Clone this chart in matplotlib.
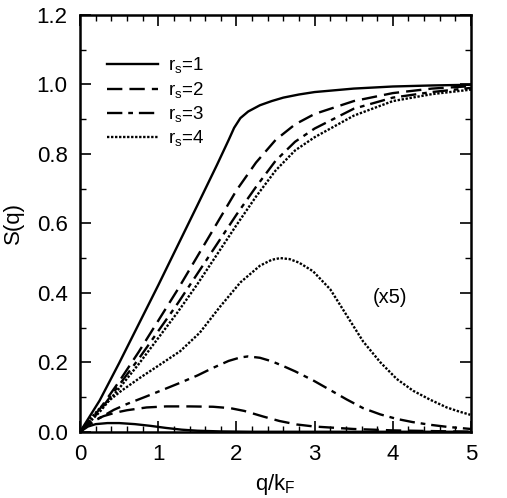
import numpy as np
import matplotlib
matplotlib.use("Agg")
import matplotlib.pyplot as plt
from matplotlib.ticker import MultipleLocator, FormatStrFormatter

plt.rcParams['font.family'] = ['Liberation Sans', 'DejaVu Sans']

# Upper curves: S(q)
q1 = [0, 0.25, 0.5, 0.75, 1.0, 1.25, 1.5, 1.75, 1.9, 1.97, 2.05, 2.15, 2.3, 2.45, 2.6, 2.8, 3.0, 3.5, 4.0, 4.5, 5.0]
s1 = [0, 0.09, 0.198, 0.31, 0.422, 0.537, 0.652, 0.768, 0.84, 0.875, 0.903, 0.922, 0.94, 0.952, 0.962, 0.971, 0.978, 0.988, 0.994, 0.997, 0.999]

q2 = [0, 0.25, 0.5, 0.75, 1.0, 1.25, 1.5, 1.75, 2.0, 2.25, 2.5, 2.75, 3.0, 3.5, 4.0, 4.5, 5.0]
s2 = [0, 0.065, 0.145, 0.23, 0.32, 0.41, 0.505, 0.6, 0.695, 0.775, 0.84, 0.885, 0.915, 0.952, 0.975, 0.988, 0.995]

q3 = [0, 0.25, 0.5, 0.75, 1.0, 1.25, 1.5, 1.75, 2.0, 2.25, 2.5, 2.75, 3.0, 3.5, 4.0, 4.5, 5.0]
s3 = [0, 0.06, 0.135, 0.21, 0.29, 0.37, 0.455, 0.54, 0.625, 0.705, 0.78, 0.835, 0.873, 0.93, 0.962, 0.978, 0.99]

q4 = [0, 0.25, 0.5, 0.75, 1.0, 1.25, 1.5, 1.75, 2.0, 2.25, 2.5, 2.75, 3.0, 3.5, 4.0, 4.5, 5.0]
s4 = [0, 0.057, 0.125, 0.195, 0.27, 0.345, 0.425, 0.51, 0.595, 0.677, 0.752, 0.81, 0.848, 0.91, 0.952, 0.972, 0.985]

# Lower curves (x5)
ql1 = [0, 0.1, 0.2, 0.35, 0.5, 0.7, 0.9, 1.1, 1.3, 1.5, 1.8, 2.2, 3.0, 5.0]
l1 = [0, 0.015, 0.022, 0.025, 0.025, 0.022, 0.017, 0.011, 0.006, 0.003, 0.001, 0.0, 0.0, 0.0]

ql2 = [0, 0.1, 0.2, 0.3, 0.45, 0.6, 0.85, 1.1, 1.4, 1.7, 1.92, 2.1, 2.34, 2.55, 2.77, 3.0, 3.5, 4.0, 4.5, 5.0]
l2 = [0, 0.02, 0.035, 0.045, 0.055, 0.062, 0.07, 0.073, 0.073, 0.072, 0.068, 0.06, 0.044, 0.031, 0.021, 0.015, 0.008, 0.004, 0.002, 0.0]

ql3 = [0, 0.1, 0.2, 0.3, 0.43, 0.6, 0.85, 1.05, 1.28, 1.5, 1.7, 1.9, 2.05, 2.15, 2.3, 2.45, 2.6, 2.75, 2.98, 3.2, 3.41, 3.62, 3.84, 4.05, 4.25, 4.48, 4.7, 4.9, 5.0]
l3 = [0, 0.018, 0.033, 0.046, 0.063, 0.08, 0.102, 0.12, 0.141, 0.162, 0.184, 0.204, 0.214, 0.217, 0.213, 0.203, 0.189, 0.174, 0.148, 0.12, 0.093, 0.068, 0.05, 0.037, 0.028, 0.02, 0.014, 0.01, 0.008]

ql4 = [0, 0.1, 0.26, 0.51, 0.77, 1.02, 1.28, 1.53, 1.79, 2.05, 2.3, 2.45, 2.56, 2.68, 2.8, 2.98, 3.2, 3.41, 3.62, 3.84, 4.05, 4.26, 4.48, 4.69, 4.85, 4.99]
l4 = [0, 0.03, 0.07, 0.115, 0.156, 0.193, 0.232, 0.285, 0.36, 0.43, 0.478, 0.495, 0.5, 0.497, 0.487, 0.462, 0.41, 0.335, 0.26, 0.2, 0.152, 0.118, 0.092, 0.07, 0.058, 0.049]

labels = [r'r$_\mathregular{s}$=1', r'r$_\mathregular{s}$=2', r'r$_\mathregular{s}$=3', r'r$_\mathregular{s}$=4']
styles = ['-', (0, (6.5, 3)), (0, (6.5, 2.5, 2, 2.5)), (0, (1, 0.7))]

fig = plt.figure(figsize=(5.07, 4.98), dpi=100)
ax = fig.add_axes([0.158, 0.133, 0.771, 0.837])

lw = 1.7
uppers = [(q1, s1), (q2, s2), (q3, s3), (q4, s4)]
lowers = [(ql1, l1), (ql2, l2), (ql3, l3), (ql4, l4)]
for (q, s), (ql, l), lab, ls in zip(uppers, lowers, labels, styles):
    ax.plot(q, s, color='black', lw=lw, linestyle=ls, label=lab)
    ax.plot(ql, l, color='black', lw=lw, linestyle=ls)

ax.set_xlim(0, 5)
ax.set_ylim(0, 1.2)
ax.xaxis.set_major_locator(MultipleLocator(1))
ax.xaxis.set_minor_locator(MultipleLocator(0.2))
ax.yaxis.set_major_locator(MultipleLocator(0.2))
ax.yaxis.set_minor_locator(MultipleLocator(0.1))
ax.yaxis.set_major_formatter(FormatStrFormatter('%.1f'))
ax.tick_params(which='both', direction='in', top=True, right=True, labelsize=16, colors='black')
ax.tick_params(which='major', length=8, width=1.2, pad=9)
ax.tick_params(which='minor', length=4, width=1.0)
for sp in ax.spines.values():
    sp.set_linewidth(1.8)

ax.set_xlabel(r'q/k$_\mathregular{F}$', fontsize=16, labelpad=5)
ax.set_ylabel('S(q)', fontsize=16, labelpad=9)

ax.text(3.96, 0.387, '(x5)', fontsize=14.5, ha='center', va='center')

leg = ax.legend(loc='upper left', bbox_to_anchor=(0.05, 0.92), frameon=False, fontsize=13.5,
                handlelength=2.7, handletextpad=0.55, labelspacing=0.22, borderaxespad=0)

fig.savefig('out.png', dpi=100)
